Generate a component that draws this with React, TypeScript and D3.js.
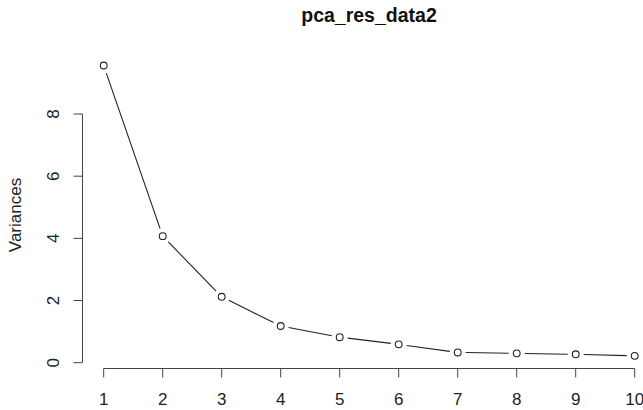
import React from "react";
import * as d3 from "d3";

const components = [1, 2, 3, 4, 5, 6, 7, 8, 9, 10];
const variances = [9.56, 4.07, 2.12, 1.18, 0.82, 0.59, 0.33, 0.3, 0.27, 0.22];
const yTicks = [0, 2, 4, 6, 8];
const title = "pca_res_data2";

const W = 643;
const H = 410;
const font = "'Liberation Sans', Arial, sans-serif";
const ink = "#222";

export default function App() {
  const x = d3.scaleLinear().domain([1, 10]).range([103.7, 634.7]);
  const y = d3.scaleLinear().domain([0, 8]).range([362.7, 114]);
  const axisY = 368.5;
  const axisX = 82.5;
  const r = 3.4;
  const gap = 8;

  // type = "b": segments stop short of the circles
  const segs = [];
  for (let i = 0; i < components.length - 1; i++) {
    const x1 = x(components[i]), y1 = y(variances[i]);
    const x2 = x(components[i + 1]), y2 = y(variances[i + 1]);
    const len = Math.hypot(x2 - x1, y2 - y1);
    const ux = (x2 - x1) / len, uy = (y2 - y1) / len;
    if (len > gap * 2) {
      segs.push([x1 + ux * gap, y1 + uy * gap, x2 - ux * gap, y2 - uy * gap]);
    }
  }

  return (
    <svg
      width={W}
      height={H}
      style={{ position: "absolute", left: 0, top: 0, background: "#fff" }}
      fontFamily={font}
    >
      <text x={369} y={22} textAnchor="middle" fontSize={19.5} fontWeight="bold" fill="#111">
        {title}
      </text>

      {/* y axis */}
      <line x1={axisX} x2={axisX} y1={y(0)} y2={y(8)} stroke="#444" />
      {yTicks.map((t) => (
        <g key={t}>
          <line x1={axisX - 9} x2={axisX} y1={y(t)} y2={y(t)} stroke="#444" />
          <text
            transform={`translate(59,${y(t)}) rotate(-90)`}
            textAnchor="middle"
            fontSize={17}
            fill={ink}
          >
            {t}
          </text>
        </g>
      ))}
      <text transform="translate(21,215) rotate(-90)" textAnchor="middle" fontSize={17} fill={ink}>
        Variances
      </text>

      {/* x axis */}
      <line x1={x(1)} x2={x(10)} y1={axisY} y2={axisY} stroke="#444" />
      {components.map((c) => (
        <g key={c}>
          <line x1={x(c)} x2={x(c)} y1={axisY} y2={axisY + 9} stroke="#444" />
          <text x={x(c)} y={405} textAnchor="middle" fontSize={17} fill={ink}>
            {c}
          </text>
        </g>
      ))}

      {segs.map((s, i) => (
        <line key={i} x1={s[0]} y1={s[1]} x2={s[2]} y2={s[3]} stroke={ink} strokeWidth={1.1} />
      ))}
      {components.map((c, i) => (
        <circle key={c} cx={x(c)} cy={y(variances[i])} r={r} fill="none" stroke={ink} strokeWidth={1.1} />
      ))}
    </svg>
  );
}
